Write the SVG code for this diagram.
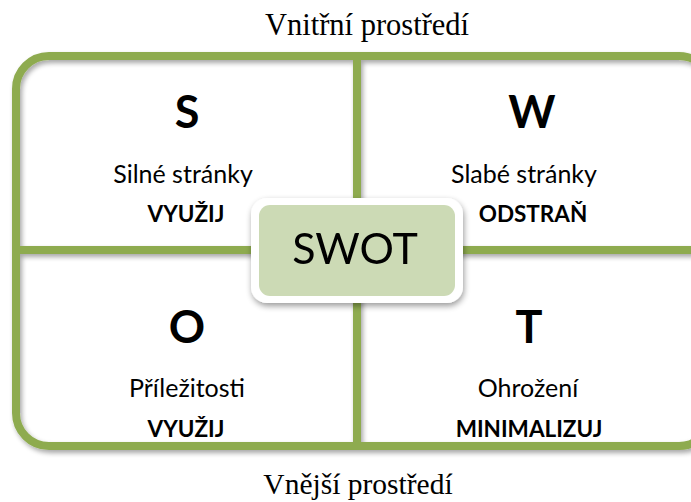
<svg xmlns="http://www.w3.org/2000/svg" width="691" height="502" viewBox="0 0 691 502">
  <defs>
    <filter id="shadow" x="-10%" y="-10%" width="120%" height="130%">
      <feGaussianBlur in="SourceAlpha" stdDeviation="2.5"/>
      <feOffset dx="2" dy="3" result="b"/>
      <feComponentTransfer><feFuncA type="linear" slope="0.35"/></feComponentTransfer>
      <feMerge><feMergeNode/><feMergeNode in="SourceGraphic"/></feMerge>
    </filter>
    <filter id="boxshadow" x="-20%" y="-20%" width="140%" height="150%">
      <feGaussianBlur in="SourceAlpha" stdDeviation="3"/>
      <feOffset dx="1" dy="3" result="b"/>
      <feComponentTransfer><feFuncA type="linear" slope="0.4"/></feComponentTransfer>
      <feMerge><feMergeNode/><feMergeNode in="SourceGraphic"/></feMerge>
    </filter>
    <style>
      .frame { fill: none; stroke: #8EAB50; stroke-width: 8; }
      .cap { font-family: Lato, "Open Sans", sans-serif; font-weight: bold; font-size: 45px; fill: #000; text-anchor: middle; }
      .name { font-family: Lato, "Open Sans", sans-serif; font-size: 25px; fill: #000; text-anchor: middle; }
      .act { font-family: Lato, "Open Sans", sans-serif; font-weight: bold; font-size: 22.5px; fill: #000; text-anchor: middle; }
      .env { font-family: "Liberation Serif", serif; font-size: 30.5px; fill: #000; text-anchor: middle; }
    </style>
  </defs>

  <rect width="691" height="502" fill="#fff"/>

  <!-- outer frame and quadrant dividers -->
  <g id="connectors" filter="url(#shadow)">
    <rect class="frame" x="16" y="56" width="696" height="390" rx="33" ry="33"/>
    <line class="frame" x1="357" y1="56" x2="357" y2="446"/>
    <line class="frame" x1="16" y1="250" x2="712" y2="250"/>
  </g>

  <text class="env" x="367" y="35">Vnitřní prostředí</text>
  <text class="env" x="358" y="494" style="font-size:29.5px">Vnější prostředí</text>

  <g id="strengths">
    <text class="cap" x="187" y="128">S</text>
    <text class="name" x="183" y="183">Silné stránky</text>
    <text class="act" x="186" y="222">VYUŽIJ</text>
  </g>

  <g id="weaknesses">
    <text class="cap" x="532" y="128">W</text>
    <text class="name" x="524" y="183">Slabé stránky</text>
    <text class="act" x="533" y="222">ODSTRAŇ</text>
  </g>

  <g id="opportunities">
    <text class="cap" x="187" y="343">O</text>
    <text class="name" x="187" y="397">Příležitosti</text>
    <text class="act" x="186" y="437">VYUŽIJ</text>
  </g>

  <g id="threats">
    <text class="cap" x="529" y="343">T</text>
    <text class="name" x="528" y="397">Ohrožení</text>
    <text class="act" x="529" y="437">MINIMALIZUJ</text>
  </g>

  <g id="swot" filter="url(#boxshadow)">
    <rect x="251" y="198" width="212" height="105" rx="16" ry="16" fill="#fff"/>
    <rect x="259" y="205" width="196" height="91" rx="11" ry="11" fill="#CCDAB5"/>
    <text x="355" y="264" font-family="Lato, 'Open Sans', sans-serif" font-size="43" fill="#000" text-anchor="middle">SWOT</text>
  </g>
</svg>
